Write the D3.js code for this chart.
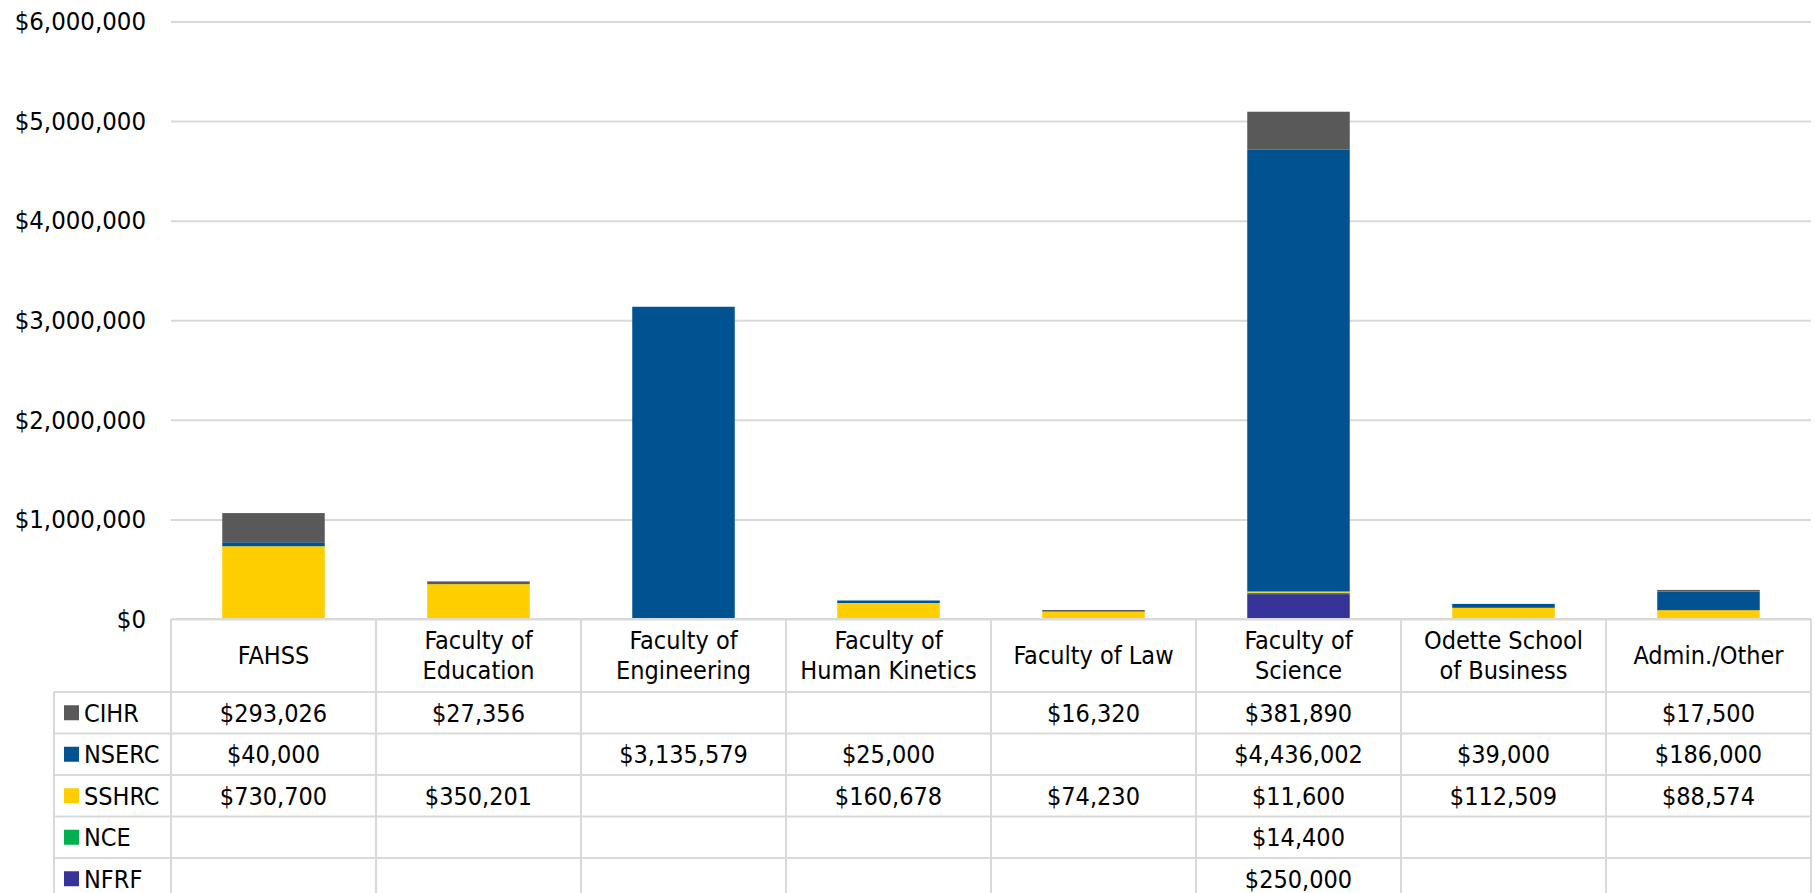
<!DOCTYPE html>
<html>
<head>
<meta charset="utf-8">
<script src="https://cdn.jsdelivr.net/npm/d3@7"></script>
<style>
  body { margin: 0; background: #fff; }
  svg text { font-family: "DejaVu Sans Condensed", "DejaVu Sans", sans-serif; fill: #000; }
</style>
</head>
<body>
<div id="chart"></div>
<script>
// categories + series straight off the data table
const categories = ["FAHSS", "Faculty of Education", "Faculty of Engineering", "Faculty of Human Kinetics",
  "Faculty of Law", "Faculty of Science", "Odette School of Business", "Admin./Other"];
const catLines = [["FAHSS"], ["Faculty of", "Education"], ["Faculty of", "Engineering"], ["Faculty of", "Human Kinetics"],
  ["Faculty of Law"], ["Faculty of", "Science"], ["Odette School", "of Business"], ["Admin./Other"]];

const cihr  = [293026, 27356, null, null, 16320, 381890, null, 17500];
const nserc = [40000, null, 3135579, 25000, null, 4436002, 39000, 186000];
const sshrc = [730700, 350201, null, 160678, 74230, 11600, 112509, 88574];
const nce   = [null, null, null, null, null, 14400, null, null];
const nfrf  = [null, null, null, null, null, 250000, null, null];

const seriesNames = ["CIHR", "NSERC", "SSHRC", "NCE", "NFRF"];
const seriesValues = [cihr, nserc, sshrc, nce, nfrf];
const seriesColors = ["#595959", "#005291", "#ffce00", "#00b050", "#363399"];
const yTicks = [0, 1000000, 2000000, 3000000, 4000000, 5000000, 6000000];

const W = 1815, H = 893;
const plotLeft = 171, plotRight = 1811, baseY = 619, topY = 21.5;
const headerH = 73, rowH = 41.5, legendLeft = 54;
const gridCol = "#d9d9d9";

const svg = d3.select("#chart").append("svg")
  .attr("width", W).attr("height", H);

const x = d3.scaleBand().domain(categories).range([plotLeft, plotRight]).padding(0);
const y = d3.scaleLinear().domain([0, 6000000]).range([baseY, topY]);

// gridlines + y labels
const yAxis = svg.append("g")
  .attr("transform", `translate(${plotLeft},0)`)
  .call(d3.axisLeft(y).tickValues(yTicks).tickFormat(d3.format("$,")).tickSize(-(plotRight - plotLeft)).tickPadding(25));
yAxis.select(".domain").remove();
yAxis.selectAll(".tick line").attr("stroke", gridCol).attr("stroke-width", 2);
yAxis.selectAll(".tick text").style("font-size", "25.5px").attr("fill", "#000");

// stacked bars, bottom series first
const rows = categories.map((c, i) => {
  const r = { cat: c };
  seriesNames.forEach((s, j) => r[s] = seriesValues[j][i] || 0);
  return r;
});
const stackOrder = seriesNames.slice().reverse();
const stacked = d3.stack().keys(stackOrder)(rows);
const color = d3.scaleOrdinal().domain(seriesNames).range(seriesColors);
const barW = x.bandwidth() * 0.5;

svg.append("g").selectAll("g")
  .data(stacked)
  .join("g")
  .attr("fill", d => color(d.key))
  .selectAll("rect")
  .data(d => d.filter(p => p[1] > p[0]))
  .join("rect")
  .attr("x", d => x(d.data.cat) + (x.bandwidth() - barW) / 2)
  .attr("width", barW)
  .attr("y", d => y(d[1]))
  .attr("height", d => y(d[0]) - y(d[1]));

// data table
const table = svg.append("g");
const rowTop = i => baseY + headerH + i * rowH;
const tableBottom = rowTop(seriesNames.length);

// horizontal lines
table.append("line").attr("x1", plotLeft).attr("x2", plotRight).attr("y1", baseY).attr("y2", baseY);
seriesNames.forEach((s, i) => {
  table.append("line").attr("x1", legendLeft).attr("x2", plotRight).attr("y1", rowTop(i)).attr("y2", rowTop(i));
});
// vertical lines
table.append("line").attr("x1", legendLeft).attr("x2", legendLeft).attr("y1", rowTop(0)).attr("y2", tableBottom);
categories.forEach(c => {
  table.append("line").attr("x1", x(c)).attr("x2", x(c)).attr("y1", baseY).attr("y2", tableBottom);
});
table.append("line").attr("x1", plotRight).attr("x2", plotRight).attr("y1", baseY).attr("y2", tableBottom);
table.selectAll("line").attr("stroke", gridCol).attr("stroke-width", 2);

// category headers
categories.forEach((c, i) => {
  const lines = catLines[i];
  const cy = baseY + headerH / 2;
  lines.forEach((t, k) => {
    table.append("text")
      .attr("x", x(c) + x.bandwidth() / 2)
      .attr("y", cy + (k - (lines.length - 1) / 2) * 30)
      .attr("dy", "0.35em")
      .attr("text-anchor", "middle")
      .style("font-size", "25px")
      .text(t);
  });
});

// legend column + values
const fmt = d3.format("$,");
seriesNames.forEach((s, i) => {
  const cy = rowTop(i) + rowH / 2;
  table.append("rect").attr("x", legendLeft + 10).attr("y", cy - 7.5)
    .attr("width", 15).attr("height", 15).attr("fill", seriesColors[i]);
  table.append("text").attr("x", legendLeft + 30).attr("y", cy).attr("dy", "0.35em")
    .style("font-size", "25px").text(s);
  seriesValues[i].forEach((v, k) => {
    if (v == null) return;
    table.append("text")
      .attr("x", x(categories[k]) + x.bandwidth() / 2)
      .attr("y", cy).attr("dy", "0.35em")
      .attr("text-anchor", "middle")
      .style("font-size", "25px")
      .text(fmt(v));
  });
});
</script>
</body>
</html>
